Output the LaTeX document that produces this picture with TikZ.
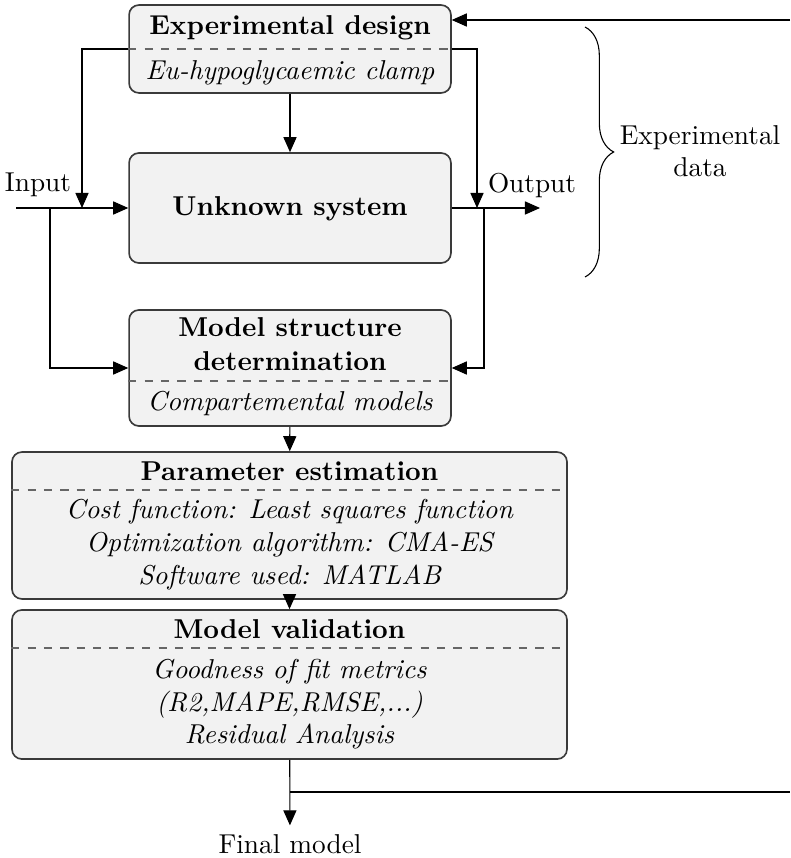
\documentclass[tikz,border=0pt]{standalone}
\usetikzlibrary{arrows.meta,decorations.pathreplacing}
\definecolor{boxfill}{HTML}{F2F2F2}
\definecolor{boxline}{HTML}{3A3A3A}
\definecolor{sepline}{HTML}{666666}
\tikzset{
  blockbox/.style={draw=boxline, fill=boxfill, line width=0.6pt,
    rounded corners=3.6pt, inner sep=0pt},
  smallbox/.style={blockbox, minimum width=117.9pt},
  widebox/.style={blockbox, minimum width=203.3pt},
  title/.style={font=\bfseries, anchor=base, inner sep=0pt},
  detail/.style={font=\itshape, anchor=base, inner sep=0pt},
  plain/.style={anchor=base, inner sep=0pt},
  separator/.style={draw=sepline, dashed, line width=0.5pt},
  arr/.style={-{Triangle[length=5.5pt,width=4.8pt]}, line width=0.4pt},
  conn/.style={line width=0.4pt}
}
\begin{document}
\begin{tikzpicture}[x=0.3663pt, y=-0.3663pt]
\useasboundingbox (0,0) rectangle (790,858);

% ---- blocks ----
\node[smallbox, minimum height=32.2pt] (ED)  at (290,49)    {};
\node[smallbox, minimum height=40.3pt] (US)  at (290,208)   {};
\node[smallbox, minimum height=42.5pt] (MSD) at (290,368)   {};
\node[widebox,  minimum height=53.8pt] (PE)  at (289.5,525.5) {};
\node[widebox,  minimum height=54.6pt] (MV)  at (289.5,684.5) {};

% dashed separators between title and details
\draw[separator] (ED.west |- 0,49)   -- (ED.east |- 0,49);
\draw[separator] (MSD.west |- 0,381) -- (MSD.east |- 0,381);
\draw[separator] (PE.west |- 0,490)  -- (PE.east |- 0,490);
\draw[separator] (MV.west |- 0,648)  -- (MV.east |- 0,648);

% ---- texts ----
\node[title]  (edT)  at (290,35)  {Experimental design};
\node[detail] (edD)  at (290,80)  {Eu-hypoglycaemic clamp};
\node[title]  (usT)  at (290,216) {Unknown system};
\node[title]  (msdT) at (290,337) {Model structure};
\node[title]  (msdU) at (290,371) {determination};
\node[detail] (msdD) at (290,410) {Compartemental models};
\node[title]  (peT)  at (289.5,480) {Parameter estimation};
\node[detail] (peA)  at (289.5,518) {Cost function: Least squares function};
\node[detail] (peB)  at (289.5,551) {Optimization algorithm: CMA-ES};
\node[detail] (peC)  at (289.5,584) {Software used: MATLAB};
\node[title]  (mvT)  at (289.5,638) {Model validation};
\node[detail] (mvA)  at (289.5,678) {Goodness of fit metrics};
\node[detail] (mvB)  at (289.5,711) {(R2,MAPE,RMSE,...)};
\node[detail] (mvC)  at (289.5,743) {Residual Analysis};
\node[plain]  (inT)  at (38,192)  {Input};
\node[plain]  (outT) at (532,193) {Output};
\node[plain]  (expA) at (700,145) {Experimental};
\node[plain]  (expB) at (700,177) {data};
\node[anchor=base, inner sep=3pt] (final) at (290,853) {Final model};

% ---- connector end points ----
\coordinate (inL)  at (16,208);
\coordinate (inJ)  at (82,208);
\coordinate (inS)  at (50,208);
\coordinate (outR) at (540,208);
\coordinate (outJ) at (477,208);
\coordinate (outS) at (484,208);
\coordinate (fbT)  at (790,20);
\coordinate (fbJ)  at (290,792);
\coordinate (fbR)  at (790,792);
\coordinate (brT)  at (585,27);
\coordinate (brB)  at (585,277);

% ---- connectors ----
\draw[arr] (ED) -- (US);
\draw[arr] (inL) -- (US.west);
\draw[arr] (ED.west) -| (inJ);
\draw[arr] (inS) |- (MSD.west);
\draw[arr] (US.east) -- (outR);
\draw[arr] (ED.east) -| (outJ);
\draw[arr] (outS) |- (MSD.east);
\draw[arr] (MSD) -- (PE);
\draw[arr] (PE) -- (MV);
\draw[arr] (MV) -- (final);
\draw[conn] (fbJ) -- (fbR);
\draw[arr] (fbT) -- (ED.east |- fbT);

% brace grouping the measured data
\draw[conn, decorate, decoration={brace, amplitude=10.5pt}] (brT) -- (brB);
\end{tikzpicture}
\end{document}
